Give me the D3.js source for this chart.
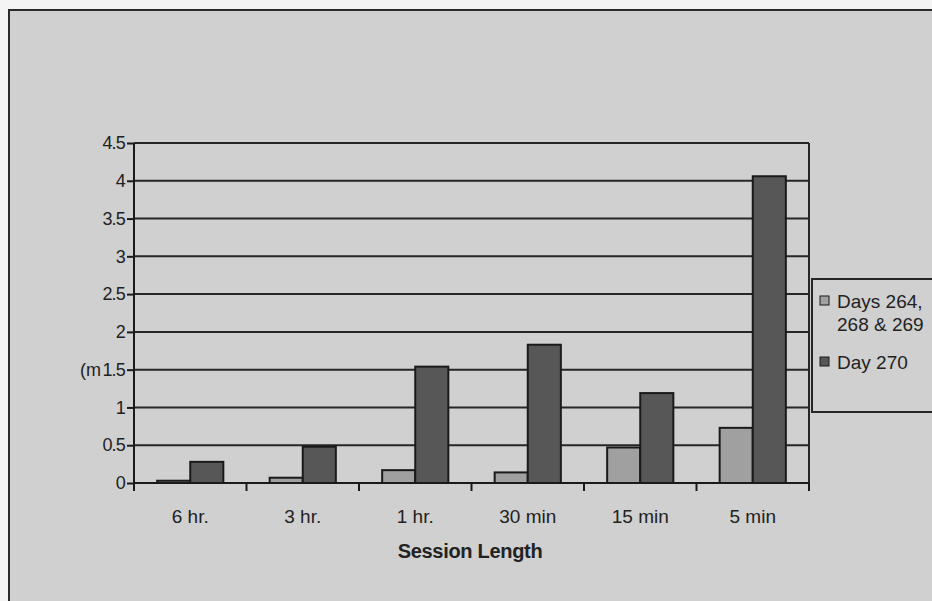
<!DOCTYPE html>
<html>
<head>
<meta charset="utf-8">
<script src="https://cdn.jsdelivr.net/npm/d3@7"></script>
<style>
  body { margin: 0; background: #f4f4f4; }
  svg { display: block; font-family: "Liberation Sans", Arial, sans-serif; }
</style>
</head>
<body>
<div class="chart"></div>
<script>
// data
const categories = ["6 hr.", "3 hr.", "1 hr.", "30 min", "15 min", "5 min"];
const seriesNames = ["Days 264,\n268 & 269", "Day 270"];
const days264 = [0.03, 0.07, 0.17, 0.14, 0.47, 0.73];
const day270 = [0.28, 0.48, 1.54, 1.83, 1.19, 4.06];
const yTicks = [0, 0.5, 1, 1.5, 2, 2.5, 3, 3.5, 4, 4.5];

const width = 932, height = 601;
const colors = ["#a0a0a0", "#575757"];

const svg = d3.select(".chart").append("svg")
  .attr("width", width)
  .attr("height", height);

// page / frame
svg.append("rect")
  .attr("x", 9).attr("y", 10)
  .attr("width", width).attr("height", height)
  .attr("fill", "#d0d0d0")
  .attr("stroke", "#2a2a2a")
  .attr("stroke-width", 2);

const plotL = 134, plotR = 809, plotT = 143, plotB = 483;

var x0 = d3.scaleBand()
  .domain(categories)
  .range([plotL, plotR])
  .padding(0);

var x1 = d3.scaleBand()
  .domain([0, 1])
  .range([0, x0.bandwidth()])
  .paddingInner(0)
  .paddingOuter(0.7);

var y = d3.scaleLinear()
  .domain([0, 4.5])
  .range([plotB, plotT]);

// gridlines
svg.append("g")
  .selectAll("line")
  .data(yTicks.filter(d => d > 0))
  .enter().append("line")
  .attr("x1", plotL).attr("x2", plotR)
  .attr("y1", d => y(d)).attr("y2", d => y(d))
  .attr("stroke", "#262626")
  .attr("stroke-width", 2);

// plot right border
svg.append("line")
  .attr("x1", plotR).attr("x2", plotR)
  .attr("y1", plotT).attr("y2", plotB)
  .attr("stroke", "#262626").attr("stroke-width", 2);

// bars
var rows = categories.map((c, i) => ({ cat: c, vals: [days264[i], day270[i]] }));
svg.append("g")
  .selectAll("g")
  .data(rows)
  .enter().append("g")
  .attr("transform", d => "translate(" + x0(d.cat) + ",0)")
  .selectAll("rect")
  .data(d => d.vals.map((v, k) => ({ k: k, v: v })))
  .enter().append("rect")
  .attr("x", d => x1(d.k))
  .attr("width", x1.bandwidth())
  .attr("y", d => y(d.v))
  .attr("height", d => y(0) - y(d.v))
  .attr("fill", d => colors[d.k])
  .attr("stroke", "#1a1a1a")
  .attr("stroke-width", 2);

// y axis
var yAxis = d3.axisLeft(y)
  .tickValues(yTicks)
  .tickSize(7)
  .tickPadding(2)
  .tickFormat(d3.format("~g"));
var gy = svg.append("g")
  .attr("transform", "translate(" + plotL + ",0)")
  .call(yAxis);
gy.select(".domain").attr("stroke", "#1a1a1a").attr("stroke-width", 2)
  .attr("d", "M0," + plotT + "V" + (plotB + 7));
gy.selectAll(".tick line").attr("stroke", "#1a1a1a").attr("stroke-width", 2);
gy.selectAll(".tick text").attr("fill", "#222")
  .style("font-size", "18px").style("letter-spacing", "-0.8px");

// truncated axis title
svg.append("text")
  .attr("x", 101).attr("y", y(1.5) + 6)
  .attr("text-anchor", "end")
  .attr("fill", "#222")
  .style("font-size", "18px")
  .text("(m");

// x axis
var xAxis = d3.axisBottom(x0).tickSize(0).tickPadding(27);
var gx = svg.append("g")
  .attr("transform", "translate(0," + plotB + ")")
  .call(xAxis);
gx.select(".domain").attr("stroke", "#1a1a1a").attr("stroke-width", 2)
  .attr("d", "M" + plotL + ",0H" + plotR);
gx.selectAll(".tick text").attr("fill", "#222").style("font-size", "19px");

// category boundary ticks
svg.append("g")
  .selectAll("line")
  .data(categories.concat(["end"]))
  .enter().append("line")
  .attr("x1", (d, i) => plotL + i * x0.step())
  .attr("x2", (d, i) => plotL + i * x0.step())
  .attr("y1", plotB).attr("y2", plotB + 8)
  .attr("stroke", "#1a1a1a").attr("stroke-width", 2);

svg.append("text")
  .attr("x", 470).attr("y", 558)
  .attr("text-anchor", "middle")
  .attr("fill", "#222")
  .style("font-size", "20px")
  .style("font-weight", "bold")
  .style("letter-spacing", "-0.3px")
  .text("Session Length");

// legend
var lg = svg.append("g").attr("transform", "translate(812,279)");
lg.append("rect")
  .attr("width", 130).attr("height", 133)
  .attr("fill", "#d0d0d0")
  .attr("stroke", "#262626").attr("stroke-width", 2);

var items = lg.selectAll("g.item")
  .data(seriesNames)
  .enter().append("g")
  .attr("class", "item")
  .attr("transform", (d, i) => "translate(8," + (i === 0 ? 29 : 90) + ")");
items.append("rect")
  .attr("x", 0).attr("y", -12)
  .attr("width", 9).attr("height", 9)
  .attr("fill", (d, i) => colors[i])
  .attr("stroke", "#1a1a1a").attr("stroke-width", 1);
items.append("text")
  .attr("fill", "#222")
  .style("font-size", "19px")
  .selectAll("tspan")
  .data(d => d.split("\n"))
  .enter().append("tspan")
  .attr("x", 17)
  .attr("y", (d, i) => i * 23)
  .text(d => d);
</script>
</body>
</html>
